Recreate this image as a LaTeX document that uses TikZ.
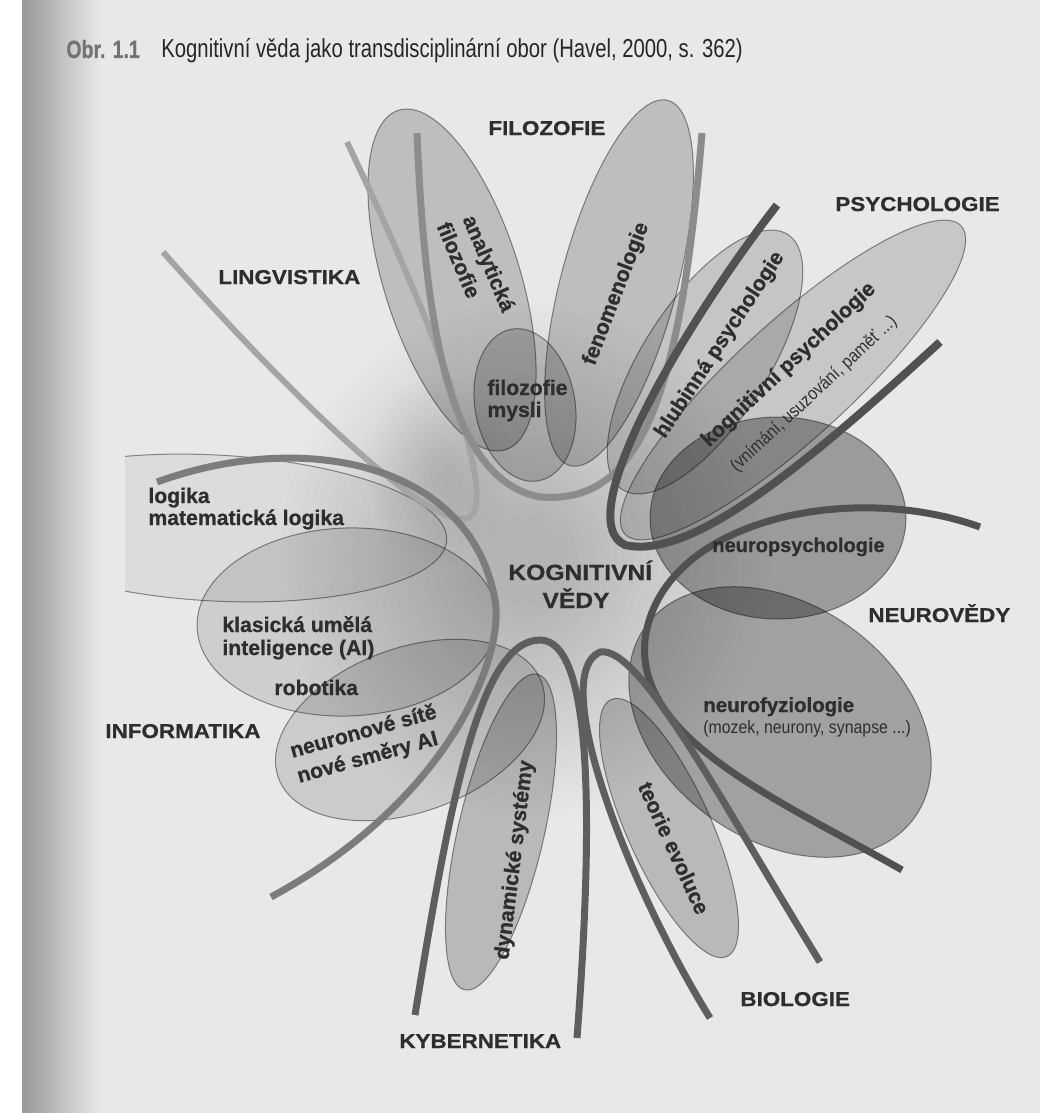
\documentclass[tikz,border=0pt]{standalone}
\usepackage{fontspec}
\setmainfont{Liberation Sans}
\newfontfamily\capw[FakeStretch=1.12,FakeBold=0.8]{Liberation Sans Bold}
\newfontfamily\hvy[FakeBold=0.8]{Liberation Sans Bold}
\newfontfamily\nar[FakeStretch=0.78]{Liberation Sans}
\newfontfamily\narw[FakeStretch=0.88]{Liberation Sans}
\newfontfamily\narb[FakeStretch=0.78,FakeBold=0.5]{Liberation Sans Bold}
\definecolor{bg}{HTML}{E8E8E8}
\definecolor{txt}{HTML}{2E2E2E}
\definecolor{cLing}{HTML}{A4A4A4}
\definecolor{cFilo}{HTML}{8C8C8C}
\definecolor{cInfo}{HTML}{7C7C7C}
\definecolor{cDark}{HTML}{5E5E5E}
\definecolor{cPsy}{HTML}{515151}
\begin{document}
\begin{tikzpicture}[x=0.5pt,y=0.5pt,
  area/.style={fill=black,fill opacity=#1,draw=black,draw opacity=0.42,line width=0.5pt},
  strand/.style={draw=#1,line width=3.5pt},
  caplab/.style={font=\capw\fontsize{10}{11}\selectfont,text=txt,inner sep=0pt},
  wordlab/.style={font=\hvy\fontsize{10.6}{11}\selectfont,text=txt,inner sep=0pt},
  litelab/.style={font=\narw\fontsize{9}{10}\selectfont,text=txt,inner sep=0pt}]
\useasboundingbox (0,0) rectangle (1040,-1113);
% page
\fill[white] (0,0) rectangle (1040,-1113);
\fill[bg] (22,0) rectangle (1040,-1113);
\shade[left color=black!40, right color=bg] (22,0) rectangle (100,-1113);
% central haze
\foreach \r in {245,237,...,45} {\fill[black,fill opacity=0.006] (525,-560) ellipse [x radius=\r, y radius=1.05*\r];}
\foreach \r in {72,66,...,12} {\fill[black,fill opacity=0.007] (440,-470) ellipse [x radius=\r, y radius=1.3*\r];}
% regions
\begin{scope}
\clip (125,0) rectangle (1040,-1113);
\path[area=0.05] (215,-528) ellipse [x radius=232, y radius=73, rotate=-3];
\end{scope}
\path[area=0.11] (347,-622) ellipse [x radius=150, y radius=94, rotate=2];
\path[area=0.12] (410,-730) ellipse [x radius=140, y radius=82, rotate=20];
\path[area=0.18] (452,-280) ellipse [x radius=178, y radius=68, rotate=107.5];
\path[area=0.18] (619,-283) ellipse [x radius=189, y radius=58, rotate=75];
\path[area=0.15] (705,-362) ellipse [x radius=152, y radius=62, rotate=57];
\path[area=0.14] (793,-380) ellipse [x radius=228, y radius=58, rotate=42.5];
\path[area=0.17] (525,-405) ellipse [x radius=77, y radius=50, rotate=100];
\path[area=0.33] (778,-518) ellipse [x radius=128, y radius=101];
\path[area=0.30] (780,-722) ellipse [x radius=165, y radius=118, rotate=-35];
\path[area=0.20] (501,-832) ellipse [x radius=162, y radius=43, rotate=77];
\path[area=0.20] (669,-828) ellipse [x radius=141, y radius=42, rotate=114.3];
% discipline strands
\draw[strand=cLing, line width=3pt] (163,-252) .. controls (330,-440) and (440,-530) .. (468,-518) .. controls (492,-508) and (470,-400) .. (347,-142);
\draw[strand=cFilo] (417,-133) .. controls (425,-330) and (450,-480) .. (540,-497) .. controls (640,-505) and (680,-400) .. (702,-133);
\draw[strand=cInfo] (157,-482) .. controls (300,-430) and (470,-460) .. (495,-600) .. controls (505,-656) and (450,-800) .. (271,-897);
\draw[strand=cPsy, line width=4pt] (777,-205) .. controls (680,-330) and (570,-520) .. (625,-545) .. controls (690,-560) and (800,-470) .. (940,-342);
\draw[strand=cPsy] (980,-527) .. controls (850,-480) and (660,-520) .. (645,-640) .. controls (635,-740) and (780,-800) .. (902,-870);
\draw[strand=cDark] (415,-1015) .. controls (450,-800) and (480,-640) .. (540,-640) .. controls (590,-640) and (595,-800) .. (577,-1038);
\draw[strand=cDark] (710,-1018) .. controls (625,-880) and (548,-675) .. (600,-652) .. controls (640,-645) and (720,-800) .. (820,-962);
% caption
\node[anchor=base west,inner sep=0pt,font=\narb\fontsize{12.5}{14}\selectfont,text=black!55] (tObr) at (66,-58) {Obr. 1.1};
\node[anchor=base west,inner sep=0pt,font=\nar\fontsize{13}{15}\selectfont,text=black!85] (tCaption) at (161,-58) {Kognitivní věda jako transdisciplinární obor (Havel, 2000, s. 362)};
% discipline labels
\node[caplab,anchor=base west] (lFil) at (488,-135) {FILOZOFIE};
\node[caplab,anchor=base west] (lPsy) at (835,-211) {PSYCHOLOGIE};
\node[caplab,anchor=base west] (lLin) at (218,-284) {LINGVISTIKA};
\node[caplab,anchor=base west] (lNeu) at (868,-622) {NEUROVĚDY};
\node[caplab,anchor=base west] (lInf) at (105,-738) {INFORMATIKA};
\node[caplab,anchor=base west] (lBio) at (740,-1006) {BIOLOGIE};
\node[caplab,anchor=base west] (lKyb) at (399,-1048) {KYBERNETIKA};
\node[caplab,font=\capw\fontsize{11}{12}\selectfont,anchor=base west] (lKog) at (508,-580) {KOGNITIVNÍ};
\node[caplab,font=\capw\fontsize{11}{12}\selectfont,anchor=base] (lVed) at (576,-608) {VĚDY};
% field labels
\node[wordlab,anchor=base west] (tLog1) at (148,-503) {logika};
\node[wordlab,anchor=base west] (tLog2) at (148,-525) {matematická logika};
\node[wordlab,anchor=base west] (tAI1) at (222,-632) {klasická umělá};
\node[wordlab,anchor=base west] (tAI2) at (222,-655) {inteligence (AI)};
\node[wordlab,anchor=base west] (tRob) at (274,-695) {robotika};
\node[wordlab,anchor=base west] (tMys1) at (487,-395) {filozofie};
\node[wordlab,anchor=base west] (tMys2) at (487,-417) {mysli};
\node[wordlab,font=\hvy\fontsize{10}{11}\selectfont,anchor=base west] (tNps) at (712,-552) {neuropsychologie};
\node[wordlab,font=\hvy\fontsize{10.2}{11}\selectfont,anchor=base west] (tNfz) at (703,-712) {neurofyziologie};
\node[litelab,anchor=base west] (tNfz2) at (703,-733) {(mozek, neurony, synapse ...)};
\node[wordlab,rotate=-67] (tAna1) at (487.5,-264) {analytická};
\node[wordlab,rotate=-67] (tAna2) at (459,-260) {filozofie};
\node[wordlab,rotate=69] (tFen) at (616.5,-294) {fenomenologie};
\node[wordlab,rotate=56.7] (tHlu) at (720,-345) {hlubinná psychologie};
\node[wordlab,rotate=43.2] (tKog1) at (789,-365) {kognitivní psychologie};
\node[litelab,rotate=43] (tKog2) at (814,-394) {(vnímání, usuzování, paměť ...)};
\node[wordlab,rotate=83] (tDyn) at (515,-860) {dynamické systémy};
\node[wordlab,rotate=-65.5] (tEvo) at (674,-848) {teorie evoluce};
\node[wordlab,anchor=base west,rotate=15.4] (tNn1) at (292,-758) {neuronové sítě};
\node[wordlab,anchor=base west,rotate=15.4] (tNn2) at (299,-783) {nové směry AI};
\end{tikzpicture}
\end{document}
